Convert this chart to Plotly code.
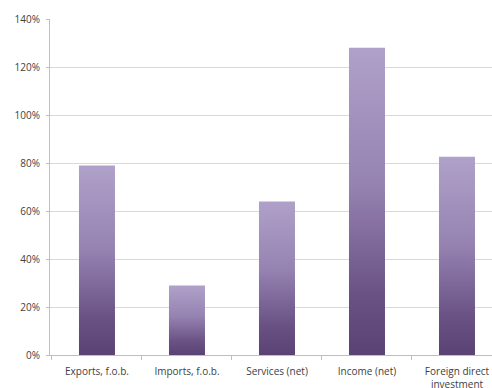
import plotly.graph_objects as go

# Balance-of-payments components, percent
categories = ["Exports, f.o.b.", "Imports, f.o.b.", "Services (net)", "Income (net)",
              "Foreign direct<br>investment"]
values = [79, 29, 64, 128, 82.6]
y_ticks = [0, 20, 40, 60, 80, 100, 120, 140]
y_tick_labels = [f"{v}%" for v in y_ticks]

fig = go.Figure(
    go.Bar(
        x=categories,
        y=values,
        width=0.4,
        marker=dict(color="#8c79a8", line=dict(width=0)),
        hoverinfo="skip",
    )
)

fig.update_layout(
    width=492,
    height=388,
    margin=dict(l=50, r=0, t=19, b=33),
    paper_bgcolor="white",
    plot_bgcolor="white",
    showlegend=False,
    font=dict(family="Open Sans, Liberation Sans, sans-serif", size=10, color="#404040"),
)

fig.update_xaxes(
    type="category",
    range=[-0.522, 4.389],
    automargin=False,
    showline=True,
    linecolor="#bfbfbf",
    linewidth=1,
    ticks="outside",
    tickson="boundaries",
    ticklen=4,
    tickcolor="#bfbfbf",
    showgrid=False,
    ticklabelstandoff=7,
    tickfont=dict(size=10, color="#404040"),
)

fig.update_yaxes(
    range=[0, 140],
    automargin=False,
    tickvals=y_ticks,
    ticktext=y_tick_labels,
    showline=True,
    linecolor="#bfbfbf",
    linewidth=1,
    ticks="outside",
    ticklen=3,
    tickcolor="#bfbfbf",
    showgrid=True,
    gridcolor="#d9d9d9",
    gridwidth=1,
    zeroline=False,
    ticklabelstandoff=4,
    tickfont=dict(size=10, color="#404040"),
)

# Vertical lavender-to-plum gradient applied to each bar after rendering
gradient_js = """
var gd = document.getElementById('{plot_id}');
var svg = gd.querySelector('svg.main-svg');
var ns = 'http://www.w3.org/2000/svg';
var defs = svg.querySelector('defs') || svg.insertBefore(document.createElementNS(ns, 'defs'), svg.firstChild);
var grad = document.createElementNS(ns, 'linearGradient');
grad.setAttribute('id', 'barGrad');
grad.setAttribute('x1', '0'); grad.setAttribute('y1', '0');
grad.setAttribute('x2', '0'); grad.setAttribute('y2', '1');
[['0', '#afa1c9'], ['0.45', '#9582b1'], ['0.8', '#6a5285'], ['1', '#5a4274']].forEach(function(s) {
  var st = document.createElementNS(ns, 'stop');
  st.setAttribute('offset', s[0]);
  st.setAttribute('stop-color', s[1]);
  grad.appendChild(st);
});
defs.appendChild(grad);
gd.querySelectorAll('.bars .point path').forEach(function(p) {
  p.style.fill = 'url(#barGrad)';
});
"""

fig.write_html("out.html", post_script=gradient_js)
